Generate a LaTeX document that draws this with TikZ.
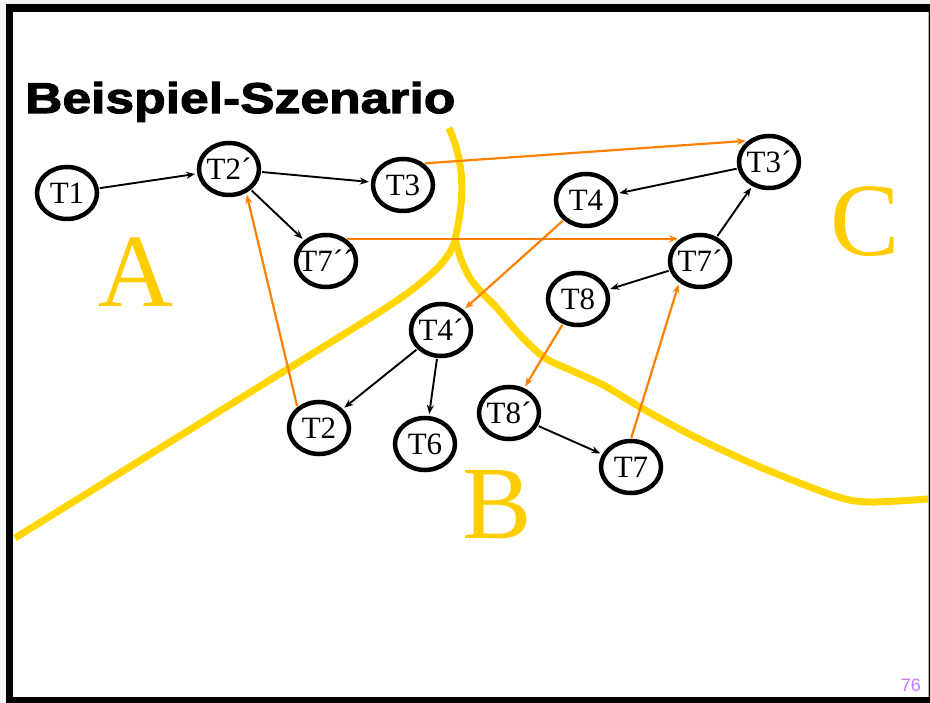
\documentclass[tikz,border=0pt]{standalone}
\usepackage{fontspec}
\setmainfont{Liberation Serif}
\newfontfamily\titlefont[FakeStretch=1.2,FakeBold=2.5]{Liberation Sans}
\newfontfamily\numfont{Liberation Sans}
\usetikzlibrary{shapes.geometric,arrows.meta}
\definecolor{gold}{RGB}{255,214,0}
\definecolor{goldtext}{RGB}{255,204,0}
\definecolor{orng}{RGB}{255,128,0}
\definecolor{pnum}{RGB}{200,120,255}
\tikzset{
  tn/.style={ellipse, draw, line width=4.5pt, fill=white, minimum width=60pt,
    minimum height=52pt, inner sep=0pt, font=\fontsize{31}{31}\selectfont},
  ba/.style={-{Stealth[length=9pt,width=7pt]}, line width=1.9pt, shorten >=2pt, shorten <=1pt},
  oa/.style={ba, draw=orng, line width=2.2pt},
  border/.style={draw=gold, line width=7pt},
  region/.style={text=goldtext, font=\fontsize{104}{104}\selectfont, inner sep=0pt}
}
\begin{document}
\begin{tikzpicture}[x=1pt,y=-1pt]
\useasboundingbox (0,0) rectangle (930,703);
\fill[gray!8] (0,0) rectangle (930,703);
\fill[black] (6,4) rectangle (930,703);
\fill[white] (13,12) rectangle (928,697);
\draw[gray!60, line width=1pt] (928.5,12) -- (928.5,697);

% region borders
\coordinate (junc) at (455,240);
\draw[border, line cap=butt] (15,538) -- (370,318) .. controls (420,287) and (450,262) .. (junc)
   .. controls (460,215) and (470,175) .. (449,128);
\draw[border, line cap=butt] plot[smooth, tension=0.5] coordinates {(455,240) (462,262) (470,278) (482,293) (497,308) (520,335) (545,358) (575,372) (605,386) (645,410) (695,437) (760,467) (835,496) (870,502) (928,499)};

% region letters
\node[region] (A) at (136,272) {A};
\node[region] (B) at (497,505) {B};
\node[region] (C) at (865,222) {C};

% title
\node[anchor=base west, inner sep=0pt, font=\titlefont\bfseries\fontsize{43}{43}\selectfont] (title) at (25,113) {Beispiel-Szenario};

% nodes
\node[tn] (t1)   at (67,193)  {\makebox[0pt]{T1}};
\node[tn] (t2p)  at (229,169) {\makebox[0pt]{T2´}};
\node[tn] (t3)   at (403,185) {\makebox[0pt]{T3}};
\node[tn] (t7pp) at (326,261) {\makebox[0pt]{T7´´}};
\node[tn] (t3p)  at (769,162) {\makebox[0pt]{T3´}};
\node[tn] (t4)   at (586,200) {\makebox[0pt]{T4}};
\node[tn] (t7p)  at (700,261) {\makebox[0pt]{T7´}};
\node[tn] (t8)   at (578,299) {\makebox[0pt]{T8}};
\node[tn] (t4p)  at (441,330) {\makebox[0pt]{T4´}};
\node[tn] (t2)   at (319,428) {\makebox[0pt]{T2}};
\node[tn] (t6)   at (425,444) {\makebox[0pt]{T6}};
\node[tn] (t8p)  at (509,413) {\makebox[0pt]{T8´}};
\node[tn] (t7)   at (631,467) {\makebox[0pt]{T7}};

% black connectors
\draw[ba] (t1) -- (t2p);
\draw[ba] (t2p) -- (t3);
\draw[ba] (t2p) -- (t7pp);
\draw[ba] (t3p) -- (t4);
\draw[ba] (t7p) -- (t3p);
\draw[ba] (t7p) -- (t8);
\draw[ba] (t4p) -- (t2);
\draw[ba] (t4p) -- (t6);
\draw[ba] (t8p) -- (t7);

% orange connectors
\draw[oa] (t3.46) -- (t3p.135);
\draw[oa] (t7pp.48) -- (t7p.132);
\draw[oa] (t4) -- (t4p);
\draw[oa] (t8) -- (t8p);
\draw[oa] (t7.north) -- (t7p.226);
\draw[oa] (t2.136) -- (t2p.306);

% page number
\node[anchor=base east, inner sep=0pt, font=\numfont\fontsize{18}{18}\selectfont, text=pnum] (pg) at (921,691) {76};
\end{tikzpicture}
\end{document}
